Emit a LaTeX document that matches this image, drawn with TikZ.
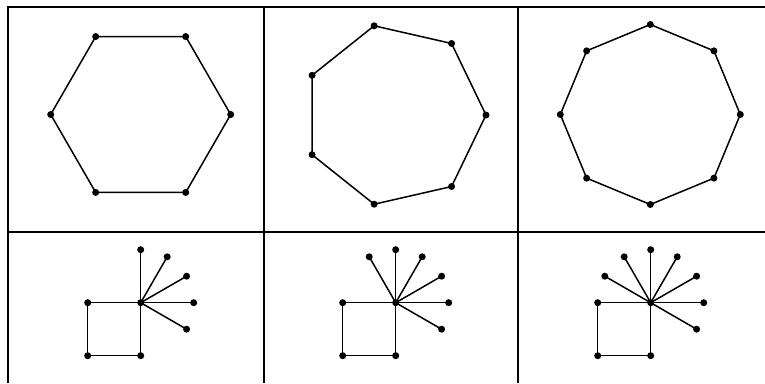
\documentclass[tikz,border=0pt]{standalone}
\begin{document}
\begin{tikzpicture}[x=1pt,y=-1pt,
  dot/.style={circle,fill=black,inner sep=0pt,minimum size=7pt},
  edge/.style={line width=1.5pt},
  gridline/.style={line width=2pt}]
\useasboundingbox (0,0) rectangle (765,383);
% table grid
\coordinate (tl) at (8,7);
\coordinate (tr) at (765,7);
\coordinate (bl) at (8,383);
\coordinate (ml) at (8,231.5);
\coordinate (mr) at (765,231.5);
\coordinate (v1t) at (263.5,7);
\coordinate (v1b) at (263.5,383);
\coordinate (v2t) at (518,7);
\coordinate (v2b) at (518,383);
\draw[gridline] (bl) -- (tl) -- (tr);
\draw[gridline] (ml) -- (mr);
\draw[gridline] (v1t) -- (v1b);
\draw[gridline] (v2t) -- (v2b);
% hexagon
\foreach \i in {0,...,5}
  \node[dot] (h\i) at ([shift={(\i*60:90)}]140.7,114.5) {};
\draw[edge] (h0.center) -- (h1.center) -- (h2.center) -- (h3.center) -- (h4.center) -- (h5.center) -- cycle;
% heptagon
\foreach \i in {0,...,6}
  \node[dot] (p\i) at ([shift={(\i*360/7:91.5)}]394.5,115) {};
\draw[edge] (p0.center) -- (p1.center) -- (p2.center) -- (p3.center) -- (p4.center) -- (p5.center) -- (p6.center) -- cycle;
% octagon
\foreach \i in {0,...,7}
  \node[dot] (o\i) at ([shift={(\i*45:90)}]650.3,114.5) {};
\draw[edge] (o0.center) -- (o1.center) -- (o2.center) -- (o3.center) -- (o4.center) -- (o5.center) -- (o6.center) -- (o7.center) -- cycle;
% bottom row: square with a fan of spokes
\foreach \p/\cx/\angs in {a/140.7/{90,60,30,0,-30}, b/395.7/{120,90,60,30,0,-30}, c/650.7/{150,120,90,60,30,0,-30}} {
  \node[dot] (\p hub) at (\cx,302.7) {};
  \node[dot] (\p q1) at ([shift={(-53,0)}]\p hub) {};
  \node[dot] (\p q2) at ([shift={(-53,53)}]\p hub) {};
  \node[dot] (\p q3) at ([shift={(0,53)}]\p hub) {};
  \draw[edge] (\p hub.center) -- (\p q1.center) -- (\p q2.center) -- (\p q3.center) -- cycle;
  \foreach \a in \angs {
    \node[dot] (\p s\a) at ([shift={(-\a:53)}]\p hub) {};
    \draw[edge] (\p hub.center) -- (\p s\a.center);
  }
}
\end{tikzpicture}
\end{document}
